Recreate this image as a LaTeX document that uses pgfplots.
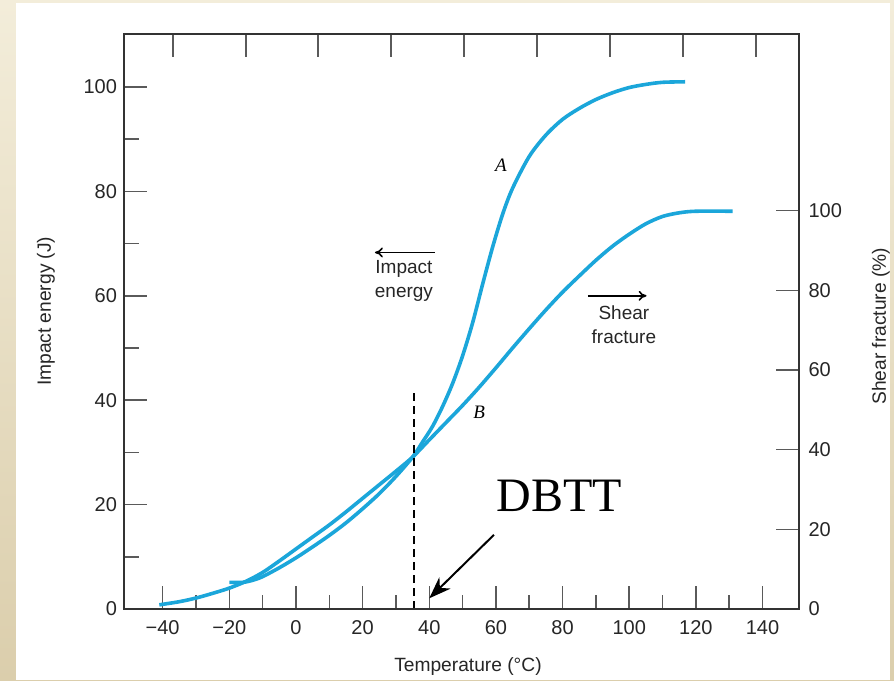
\documentclass[border=0pt]{standalone}
\usepackage{fontspec}
\setmainfont{Liberation Sans}
\newfontfamily\seriffont{Liberation Serif}
\usepackage{pgfplots}
\pgfplotsset{compat=1.18}
\usetikzlibrary{arrows.meta}
\definecolor{curve}{HTML}{1BA6DA}
\definecolor{beigeL}{HTML}{F3EDDA}
\definecolor{beigeD}{HTML}{DBCEAC}
\definecolor{tickgray}{HTML}{5A5A5A}
\definecolor{axisgray}{HTML}{333333}

\pgfplotstableread{
x y
-20 5.1
-16 5.1
-13 5.5
-10 6.2
-5 7.9
0 9.8
5 11.9
10 14.1
15 16.5
20 19.2
25 22.1
30 25.4
35 29.1
38 32.0
41 35.0
44 38.8
47 43.2
50 48.5
53 54.8
56 62.2
59 69.3
62 75.6
65 80.6
70 86.7
75 90.8
80 93.8
85 95.9
90 97.6
95 98.9
100 99.9
105 100.5
110 100.9
116.8 101.0
}\curveA

\pgfplotstableread{
x y
-41 0.8
-35 1.4
-30 2.1
-25 3.0
-20 4.0
-15 5.3
-10 7.0
-5 9.2
0 11.5
5 13.8
10 16.1
15 18.6
20 21.2
25 23.8
30 26.4
35 29.1
40 32.4
45 35.7
50 39.0
55 42.5
60 46.2
65 50.0
70 53.7
75 57.3
80 60.7
85 63.8
90 66.8
95 69.5
100 71.8
105 73.8
110 75.2
115 75.9
120 76.2
131 76.2
}\curveB

\begin{document}
\begin{tikzpicture}[x=1pt,y=1pt]
\shade[top color=beigeL, bottom color=beigeD] (-62,-35.5) rectangle (385,304.5);
\fill[white] (-54,-35.5) rectangle (383,302.75);

\begin{axis}[
  at={(0,0)}, anchor=south west,
  scale only axis, width=337.25pt, height=287.35pt,
  xmin=-51.6, xmax=150.8, ymin=0, ymax=110.1,
  axis line style={line width=1pt, axisgray},
  tick align=inside,
  xtick={-40,-20,...,140},
  xticklabels={−40,−20,0,20,40,60,80,100,120,140},
  minor xtick={-30,-10,...,130},
  ytick={0,20,...,100}, minor ytick={10,30,...,90},
  xtick pos=left, ytick pos=left,
  major tick length=11.5pt, minor tick length=7.25pt,
  every tick/.style={tickgray, line width=0.75pt},
  tick label style={font=\fontsize{10}{12}\selectfont, black!85},
  /pgf/number format/assume math mode=true,
  xticklabel style={yshift=-2pt},
  xlabel={Temperature (°C)},
  xlabel style={at={(axis description cs:0.51,0)}, anchor=center, yshift=-29pt, font=\fontsize{9.6}{12}\selectfont, black!85},
  ylabel={Impact energy (J)},
  ylabel style={at={(axis description cs:0,0.518)}, anchor=center, yshift=39pt, font=\fontsize{9.6}{12}\selectfont, black!85},
  clip=false,
]
\addplot[curve, line width=1.8pt, smooth, tension=0.5] table[x=x,y=y] {\curveA};
\addplot[curve, line width=1.8pt, smooth, tension=0.5] table[x=x,y=y] {\curveB};

\draw[-{To[length=4pt,width=5pt]}, line width=0.8pt] (axis cs:41.7,68.3) -- (axis cs:23.7,68.3);
\node[anchor=base, font=\fontsize{9.5}{12}\selectfont, black!85] at (axis cs:32.4,64.2) {Impact};
\node[anchor=base, font=\fontsize{9.5}{12}\selectfont, black!85] at (axis cs:32.4,59.6) {energy};
\draw[-{To[length=4pt,width=5pt]}, line width=0.8pt] (axis cs:87.6,60.0) -- (axis cs:105.2,60.0);
\node[anchor=base, font=\fontsize{9.5}{12}\selectfont, black!85] at (axis cs:98.4,55.4) {Shear};
\node[anchor=base, font=\fontsize{9.5}{12}\selectfont, black!85] at (axis cs:98.4,50.9) {fracture};
\node[anchor=base, font=\seriffont\itshape\fontsize{9.5}{12}\selectfont] at (axis cs:61.5,83.8) {A};
\node[anchor=base, font=\seriffont\itshape\fontsize{9.5}{12}\selectfont] at (axis cs:55.0,36.5) {B};
\draw[line width=1pt, dash pattern=on 4pt off 2.5pt] (axis cs:35.3,0) -- (axis cs:35.3,41.6);
\node[anchor=base, font=\seriffont\fontsize{24}{28}\selectfont] at (axis cs:79,18.6) {DBTT};
\draw[line width=1pt, -{Stealth[length=11pt,width=8pt]}] (axis cs:59.4,14.2) -- (axis cs:40.0,2.05);
\end{axis}

\begin{axis}[
  at={(0,0)}, anchor=south west,
  scale only axis, width=337.25pt, height=287.35pt,
  xmin=-51.6, xmax=150.8, ymin=0, ymax=144.3,
  axis line style={line width=1pt, axisgray},
  tick align=inside,
  xtick={-36.9,-15.0,6.6,28.5,50.4,72.4,94.3,116.1,138.0}, xticklabels={},
  xtick pos=right,
  ytick={0,20,...,100}, ytick pos=right, yticklabel pos=right,
  major tick length=11.5pt,
  every tick/.style={tickgray, line width=0.75pt},
  tick label style={font=\fontsize{10}{12}\selectfont, black!85},
  /pgf/number format/assume math mode=true,
  yticklabel style={xshift=1.5pt},
  ylabel={Shear fracture (\%)},
  ylabel style={at={(axis description cs:1,0.492)}, anchor=center, yshift=-41.25pt, font=\fontsize{9.6}{12}\selectfont, black!85},
]
\end{axis}
\pgfresetboundingbox
\useasboundingbox (-62,-35.5) rectangle (385,304.5);
\end{tikzpicture}
\end{document}
